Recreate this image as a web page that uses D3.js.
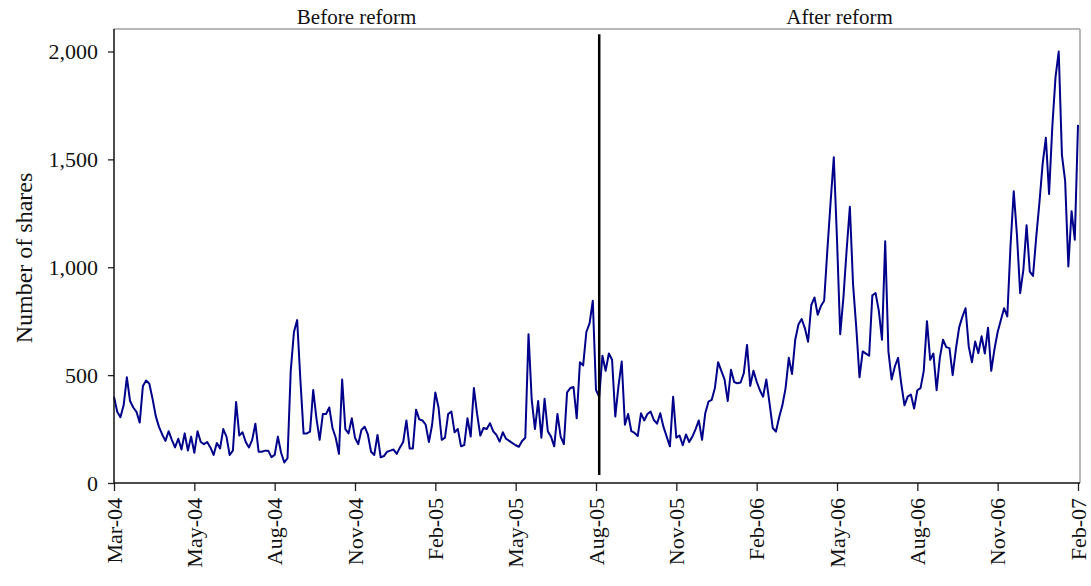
<!DOCTYPE html>
<html>
<head>
<meta charset="utf-8">
<script src="https://cdn.jsdelivr.net/npm/d3@7"></script>
<style>
  html, body { margin: 0; padding: 0; background: #fff; }
  svg { display: block; }
  text { font-family: "Liberation Serif", "Times New Roman", serif; fill: #111; }
</style>
</head>
<body>
<svg id="chart" width="1091" height="586"></svg>
<script>
// Daily number of shares (sampled trading days), Mar-04 .. Feb-07
const shares = [
  400,330,305,360,490,380,350,330,280,450,475,460,390,310,260,225,195,240,200,165,
  205,155,230,150,215,140,240,190,180,190,165,130,185,160,250,215,130,150,375,220,
  235,190,165,200,275,145,145,150,150,120,130,215,140,95,115,520,700,755,480,230,
  230,238,431,300,200,320,320,350,255,210,135,480,250,230,300,210,180,246,261,225,
  145,130,223,119,125,145,150,155,135,165,190,290,160,160,340,295,290,270,190,270,
  420,350,200,210,320,331,235,250,170,176,300,215,440,320,220,255,250,277,240,223,
  192,235,205,195,185,175,168,195,210,690,385,250,380,210,390,240,215,170,320,215,
  180,420,440,445,300,560,545,700,740,845,431,400,590,520,600,571,308,450,563,270,
  320,240,232,218,323,290,320,331,292,275,323,260,215,170,400,210,220,175,225,190,
  215,250,290,200,323,377,385,440,560,520,480,380,525,468,462,466,509,640,450,520,
  470,430,400,480,370,255,238,305,360,440,580,505,664,735,760,718,655,825,860,780,
  820,845,1080,1300,1510,1130,690,860,1080,1280,920,720,490,610,600,590,870,880,800,664,
  1120,610,480,540,580,460,360,400,410,345,430,440,520,750,571,600,430,580,664,630,
  625,500,620,720,770,810,633,560,656,602,680,600,720,520,620,700,756,810,772,1100,
  1352,1150,880,988,1195,980,960,1140,1300,1480,1600,1340,1650,1880,2000,1520,1400,1004,1260,1128,
  1660
];

// Category tick labels, one every 25 sampled trading days
const tickLabels = ["Mar-04","May-04","Aug-04","Nov-04","Feb-05","May-05","Aug-05",
                    "Nov-05","Feb-06","May-06","Aug-06","Nov-06","Feb-07"];
const tickStep = 25;
const yTicks = [0, 500, 1000, 1500, 2000];

// Reform date position (sample index) and period titles
const reformIndex = 151;
const periodTitles = ["Before reform", "After reform"];

const svg = d3.select("#chart");
const L = 114, R = 1080, T = 29, B = 483;
const xEnd = 1078;

const x = d3.scaleLinear().domain([0, shares.length - 1]).range([L, xEnd]);
const y = d3.scaleLinear().domain([0, 2000]).range([B, 51.5]);

// frame: top and right grey
svg.append("line").attr("x1", L).attr("x2", R).attr("y1", T).attr("y2", T)
  .attr("stroke", "#a0a0a0").attr("stroke-width", 1.5);
svg.append("line").attr("x1", R).attr("x2", R).attr("y1", T).attr("y2", B)
  .attr("stroke", "#a0a0a0").attr("stroke-width", 1.5);

// data line
const line = d3.line().x((d, i) => x(i)).y(d => y(d));
svg.append("path").datum(shares)
  .attr("d", line)
  .attr("fill", "none")
  .attr("stroke", "#00008b")
  .attr("stroke-width", 2)
  .attr("stroke-linejoin", "round");

// reform line
svg.append("line")
  .attr("x1", x(reformIndex)).attr("x2", x(reformIndex))
  .attr("y1", y(2080)).attr("y2", y(37))
  .attr("stroke", "#000").attr("stroke-width", 2.5);

// Y axis
const yAxis = d3.axisLeft(y).tickValues(yTicks).tickFormat(d3.format(","))
  .tickSize(6).tickSizeOuter(0).tickPadding(10);
const gy = svg.append("g").attr("transform", `translate(${L},0)`).call(yAxis);
gy.select(".domain").remove();
gy.selectAll(".tick line").attr("stroke", "#222").attr("stroke-width", 1.3);
gy.selectAll(".tick text").style("font-size", "22px").style("font-family", "Liberation Serif, serif").attr("fill", "#111");
svg.append("line").attr("x1", L).attr("x2", L).attr("y1", T).attr("y2", B)
  .attr("stroke", "#111").attr("stroke-width", 1.5);

// X axis
const xTickVals = tickLabels.map((d, i) => i * tickStep);
const xAxis = d3.axisBottom(x).tickValues(xTickVals)
  .tickFormat((d, i) => tickLabels[i]).tickSize(8).tickSizeOuter(0).tickPadding(0);
const gx = svg.append("g").attr("transform", `translate(0,${B})`).call(xAxis);
gx.select(".domain").remove();
gx.selectAll(".tick line").attr("stroke", "#222").attr("stroke-width", 1.3);
gx.selectAll(".tick text")
  .style("font-size", "22px").style("font-family", "Liberation Serif, serif").attr("fill", "#111")
  .attr("text-anchor", "end")
  .attr("transform", "rotate(-90)")
  .attr("x", -15).attr("y", 0).attr("dy", "0.33em");
svg.append("line").attr("x1", L).attr("x2", R).attr("y1", B).attr("y2", B)
  .attr("stroke", "#111").attr("stroke-width", 1.5);

// Y label
svg.append("text")
  .attr("transform", `translate(32,258) rotate(-90)`)
  .attr("text-anchor", "middle")
  .style("font-size", "24px")
  .text("Number of shares");

// Period titles
svg.append("text").attr("x", (L + x(reformIndex)) / 2).attr("y", 24)
  .attr("text-anchor", "middle").style("font-size", "21px").text(periodTitles[0]);
svg.append("text").attr("x", (x(reformIndex) + R) / 2).attr("y", 24)
  .attr("text-anchor", "middle").style("font-size", "21px").text(periodTitles[1]);
</script>
</body>
</html>
